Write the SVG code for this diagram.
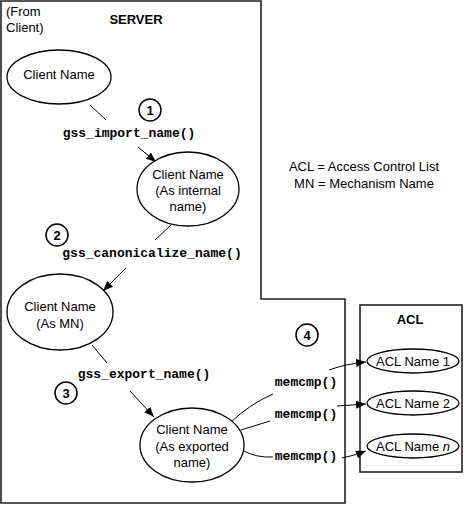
<svg xmlns="http://www.w3.org/2000/svg" width="466" height="505" viewBox="0 0 466 505">
<defs>
<style>
.t{font-family:"Liberation Sans",Arial,sans-serif;font-size:13px;fill:#000}
.b{font-weight:bold}
.m{font-family:"Liberation Mono","Courier New",monospace;font-size:13px;font-weight:bold;fill:#000}
.ell{fill:#fff;stroke:#000;stroke-width:1.3}
.num{fill:#fff;stroke:#000;stroke-width:1.5}
.c{fill:none;stroke:#000;stroke-width:1}
.box{fill:none;stroke:#222;stroke-width:1.6}
</style>
<marker id="ah" markerUnits="userSpaceOnUse" markerWidth="10" markerHeight="8" refX="10" refY="4" orient="auto">
<path d="M0,0 L10,4 L0,8 z" fill="#000"/>
</marker>
</defs>
<rect width="466" height="505" fill="#fff"/>

<g id="server">
<path class="box" d="M1,1 H261 V299 H345 V503 H1 Z"/>
<text class="t b" x="136" y="24" text-anchor="middle">SERVER</text>
<text class="t" x="6" y="16" font-size="12">(From</text>
<text class="t" x="6" y="32" font-size="12">Client)</text>
</g>

<g id="acl">
<rect class="box" x="360" y="305" width="102" height="167"/>
<text class="t b" x="410" y="324" text-anchor="middle">ACL</text>
</g>

<g id="legend">
<text class="t" x="364" y="171" text-anchor="middle" font-size="12">ACL = Access Control List</text>
<text class="t" x="364" y="188" text-anchor="middle" font-size="12">MN = Mechanism Name</text>
</g>

<g id="connectors">
<line class="c" x1="90" y1="105" x2="106" y2="120"/>
<line class="c" x1="138" y1="147" x2="156" y2="162" marker-end="url(#ah)"/>
<line class="c" x1="171" y1="225" x2="155" y2="240"/>
<line class="c" x1="126" y1="268" x2="103" y2="291" marker-end="url(#ah)"/>
<line class="c" x1="92" y1="345" x2="107" y2="363"/>
<line class="c" x1="130" y1="391" x2="154" y2="417" marker-end="url(#ah)"/>
<path class="c" d="M231,422 Q250,404 273,394"/>
<path class="c" d="M241,430 L270,421"/>
<path class="c" d="M242,450 Q256,458 273,457"/>
<path class="c" d="M329,370 Q345,364 366,362" marker-end="url(#ah)"/>
<path class="c" d="M337,406 L366,404" marker-end="url(#ah)"/>
<path class="c" d="M342,458 Q353,456 366,451" marker-end="url(#ah)"/>
</g>

<g id="n-client">
<ellipse class="ell" cx="59" cy="77" rx="52" ry="27"/>
<text class="t" x="59" y="79" text-anchor="middle">Client Name</text>
</g>

<g id="step1">
<circle class="num" cx="150" cy="110" r="11"/>
<text class="t b" x="150" y="115" text-anchor="middle">1</text>
</g>
<g id="f-import">
<text class="m" x="129" y="137" text-anchor="middle">gss_import_name()</text>
</g>

<g id="n-internal">
<ellipse class="ell" cx="188" cy="189" rx="51" ry="37"/>
<text class="t" x="188" y="179" text-anchor="middle">Client Name</text>
<text class="t" x="188" y="195" text-anchor="middle">(As internal</text>
<text class="t" x="188" y="211" text-anchor="middle">name)</text>
</g>

<g id="step2">
<circle class="num" cx="57" cy="235" r="11"/>
<text class="t b" x="57" y="240" text-anchor="middle">2</text>
</g>
<g id="f-canon">
<text class="m" x="152" y="257" text-anchor="middle">gss_canonicalize_name()</text>
</g>

<g id="n-mn">
<ellipse class="ell" cx="60" cy="312" rx="53" ry="38"/>
<text class="t" x="60" y="311" text-anchor="middle">Client Name</text>
<text class="t" x="60" y="328" text-anchor="middle">(As MN)</text>
</g>

<g id="f-export">
<text class="m" x="144" y="378" text-anchor="middle">gss_export_name()</text>
</g>
<g id="step3">
<circle class="num" cx="66" cy="393" r="11"/>
<text class="t b" x="66" y="398" text-anchor="middle">3</text>
</g>

<g id="n-exported">
<ellipse class="ell" cx="192" cy="445" rx="52" ry="37"/>
<text class="t" x="192" y="434" text-anchor="middle">Client Name</text>
<text class="t" x="192" y="451" text-anchor="middle">(As exported</text>
<text class="t" x="192" y="467" text-anchor="middle">name)</text>
</g>

<g id="step4">
<circle class="num" cx="307" cy="335" r="11"/>
<text class="t b" x="307" y="340" text-anchor="middle">4</text>
</g>

<g id="f-memcmp">
<text class="m" x="306" y="386" text-anchor="middle">memcmp()</text>
<text class="m" x="306" y="418" text-anchor="middle">memcmp()</text>
<text class="m" x="306" y="460" text-anchor="middle">memcmp()</text>
</g>

<g id="n-acl1">
<ellipse class="ell" cx="413" cy="361" rx="46" ry="12"/>
<text class="t" x="413" y="366" text-anchor="middle">ACL Name 1</text>
</g>
<g id="n-acl2">
<ellipse class="ell" cx="413" cy="403" rx="46" ry="12"/>
<text class="t" x="413" y="408" text-anchor="middle">ACL Name 2</text>
</g>
<g id="n-acln">
<ellipse class="ell" cx="413" cy="446" rx="46" ry="12"/>
<text class="t" x="413" y="451" text-anchor="middle">ACL Name <tspan font-style="italic">n</tspan></text>
</g>
</svg>
